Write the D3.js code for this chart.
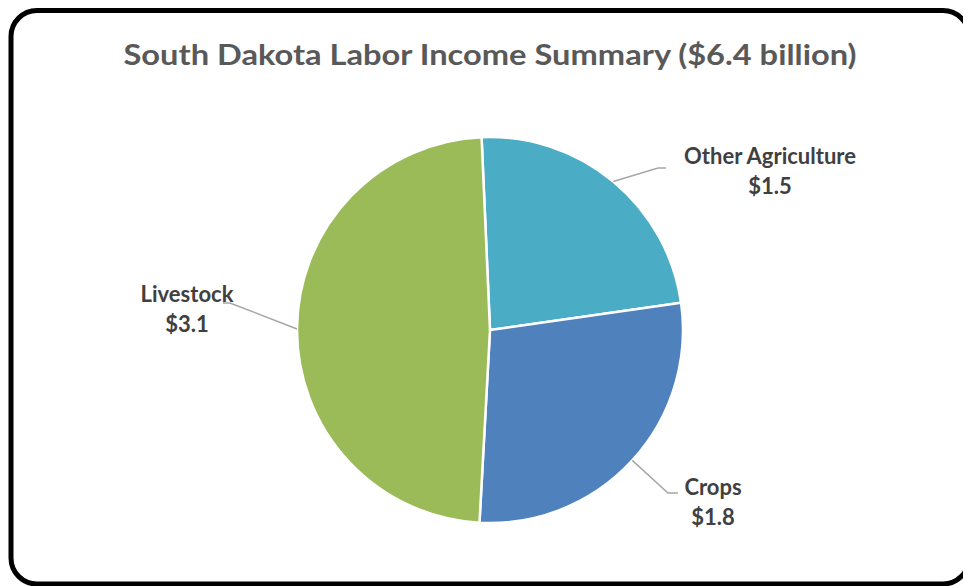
<!DOCTYPE html>
<html>
<head>
<meta charset="utf-8">
<script src="https://cdn.jsdelivr.net/npm/d3@7/dist/d3.min.js"></script>
<style>
  html, body { margin: 0; padding: 0; background: #fff; }
  svg { display: block; }
</style>
</head>
<body>
<svg id="chart" width="963" height="586"></svg>
<script>
// Labor income by sector, billions of dollars
const categories = ["Other Agriculture", "Crops", "Livestock"];
const values = [1.5, 1.8, 3.1];
const colors = ["#4BACC6", "#4F81BD", "#9BBB59"];
const titleText = "South Dakota Labor Income Summary ($6.4 billion)";

const svg = d3.select("#chart");
const fontFamily = "Lato, 'Open Sans', sans-serif";

// Rounded chart frame
svg.append("rect")
  .attr("x", 11).attr("y", 10.5)
  .attr("width", 958).attr("height", 573.5)
  .attr("rx", 26).attr("ry", 26)
  .attr("fill", "#fff")
  .attr("stroke", "#000")
  .attr("stroke-width", 5);

// Title
svg.append("text")
  .attr("x", 490).attr("y", 65)
  .attr("text-anchor", "middle")
  .attr("font-family", fontFamily)
  .attr("font-weight", "bold")
  .attr("font-size", 29)
  .attr("fill", "#595959")
  .attr("textLength", 733)
  .attr("lengthAdjust", "spacingAndGlyphs")
  .text(titleText);

const cx = 490, cy = 330, r = 193;
const startRot = -2.5 * Math.PI / 180;

const data = categories.map((c, i) => ({ name: c, value: values[i], color: colors[i] }));

const pie = d3.pie()
  .value(d => d.value)
  .sort(null)
  .startAngle(startRot)
  .endAngle(startRot + 2 * Math.PI);

const arc = d3.arc().innerRadius(0).outerRadius(r);

const g = svg.append("g").attr("transform", `translate(${cx},${cy})`);
const arcs = pie(data);

g.selectAll("path.slice")
  .data(arcs)
  .join("path")
  .attr("class", "slice")
  .attr("d", arc)
  .attr("fill", d => d.data.color)
  .attr("stroke", "#fff")
  .attr("stroke-width", 2.5)
  .attr("stroke-linejoin", "round");

// Label placement per slice: text centre, leader elbow and end
const labelLayout = {
  "Other Agriculture": { tx: 770, ty: 164, elbow: [658, 168], end: [666, 168] },
  "Crops": { tx: 713, ty: 495, elbow: [668, 493], end: [678, 493] },
  "Livestock": { tx: 187, ty: 302, elbow: [230, 303], end: [223, 303] }
};

const fmt = v => "$" + d3.format(".1f")(v);

arcs.forEach(a => {
  const L = labelLayout[a.data.name];
  const mid = (a.startAngle + a.endAngle) / 2;
  const px = cx + r * Math.sin(mid);
  const py = cy - r * Math.cos(mid);
  svg.append("polyline")
    .attr("points", [[px, py], L.elbow, L.end].map(p => p.join(",")).join(" "))
    .attr("fill", "none")
    .attr("stroke", "#A6A6A6")
    .attr("stroke-width", 1.5);

  const t = svg.append("text")
    .attr("text-anchor", "middle")
    .attr("font-family", fontFamily)
    .attr("font-weight", "bold")
    .attr("font-size", 22)
    .attr("fill", "#404040");
  t.append("tspan").attr("x", L.tx).attr("y", L.ty).text(a.data.name);
  t.append("tspan").attr("x", L.tx).attr("y", L.ty + 30).text(fmt(a.data.value));
});
</script>
</body>
</html>
